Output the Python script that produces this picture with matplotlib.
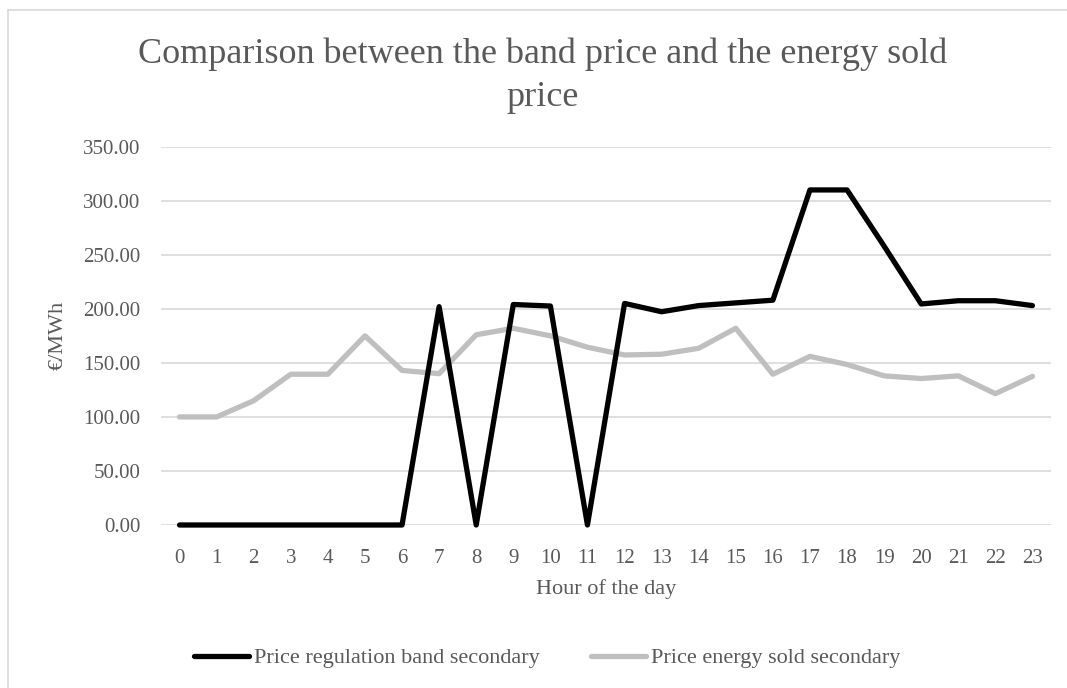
import matplotlib
matplotlib.use('Agg')
import matplotlib.pyplot as plt
from matplotlib.lines import Line2D

# hours 0..23 and the two price series (EUR/MWh)
hours = list(range(24))
band_price = [0, 0, 0, 0, 0, 0, 0, 202, 0, 204, 202.6, 0,
              205, 197.3, 203, 205.5, 208, 310, 310, 258, 204.5, 207.5, 207.5, 203]
energy_price = [100, 100, 115, 139.5, 139.5, 175, 143, 140, 176, 182, 175, 164.5,
                157.3, 158, 163.5, 182, 139.5, 156, 148.5, 138, 135.5, 138, 121.5, 137.5]
y_ticks = [0, 50, 100, 150, 200, 250, 300, 350]

txt = '#595959'
plt.rcParams['font.family'] = ['Liberation Serif', 'DejaVu Serif']

fig = plt.figure(figsize=(10.67, 6.88), dpi=100)
ax = fig.add_axes([161 / 1067, 1 - 525 / 688, 890 / 1067, (525 - 146.7) / 688])

ax.plot(hours, band_price, color='black', lw=3.8, solid_joinstyle='round',
        solid_capstyle='round', label='Price regulation band secondary',
        zorder=3, clip_on=False)
ax.plot(hours, energy_price, color='#bfbfbf', lw=3.8, solid_joinstyle='round',
        solid_capstyle='round', label='Price energy sold secondary',
        zorder=2, clip_on=False)

ax.set_xlim(-0.5, 23.5)
ax.set_ylim(0, 350)
ax.set_xticks(hours)
ax.set_xticklabels([str(h) for h in hours])
ax.set_yticks(y_ticks)
ax.set_yticklabels(['%.2f' % v for v in y_ticks])
ax.grid(axis='y', color='#d9d9d9', lw=1.2)
ax.set_axisbelow(True)
for s in ax.spines.values():
    s.set_visible(False)
ax.tick_params(length=0, labelsize=15, labelcolor=txt)
ax.tick_params(axis='x', pad=17)
ax.tick_params(axis='y', pad=15)

ax.set_xlabel('Hour of the day', fontsize=16, color=txt, labelpad=8)
ax.set_ylabel('€/MWh', fontsize=16, color=txt, labelpad=11)

fig.text(543 / 1067, 1 - 106 / 688,
         'Comparison between the band price and the energy sold\nprice',
         ha='center', va='baseline', fontsize=26, color=txt, linespacing=1.4)

fig.legend(loc='center', bbox_to_anchor=(547 / 1067, 1 - 658 / 688), ncol=2,
           frameon=False, fontsize=16, handlelength=2.5, handletextpad=0.2,
           columnspacing=2.3, labelcolor=txt)

# light border of the chart area (top and left edges)
fig.add_artist(Line2D([8 / 1067, 1], [1 - 10 / 688, 1 - 10 / 688],
                      transform=fig.transFigure, color='#d9d9d9', lw=1.2))
fig.add_artist(Line2D([8 / 1067, 8 / 1067], [0, 1 - 10 / 688],
                      transform=fig.transFigure, color='#d9d9d9', lw=1.2))

fig.savefig('out.png', dpi=100, facecolor='white')
